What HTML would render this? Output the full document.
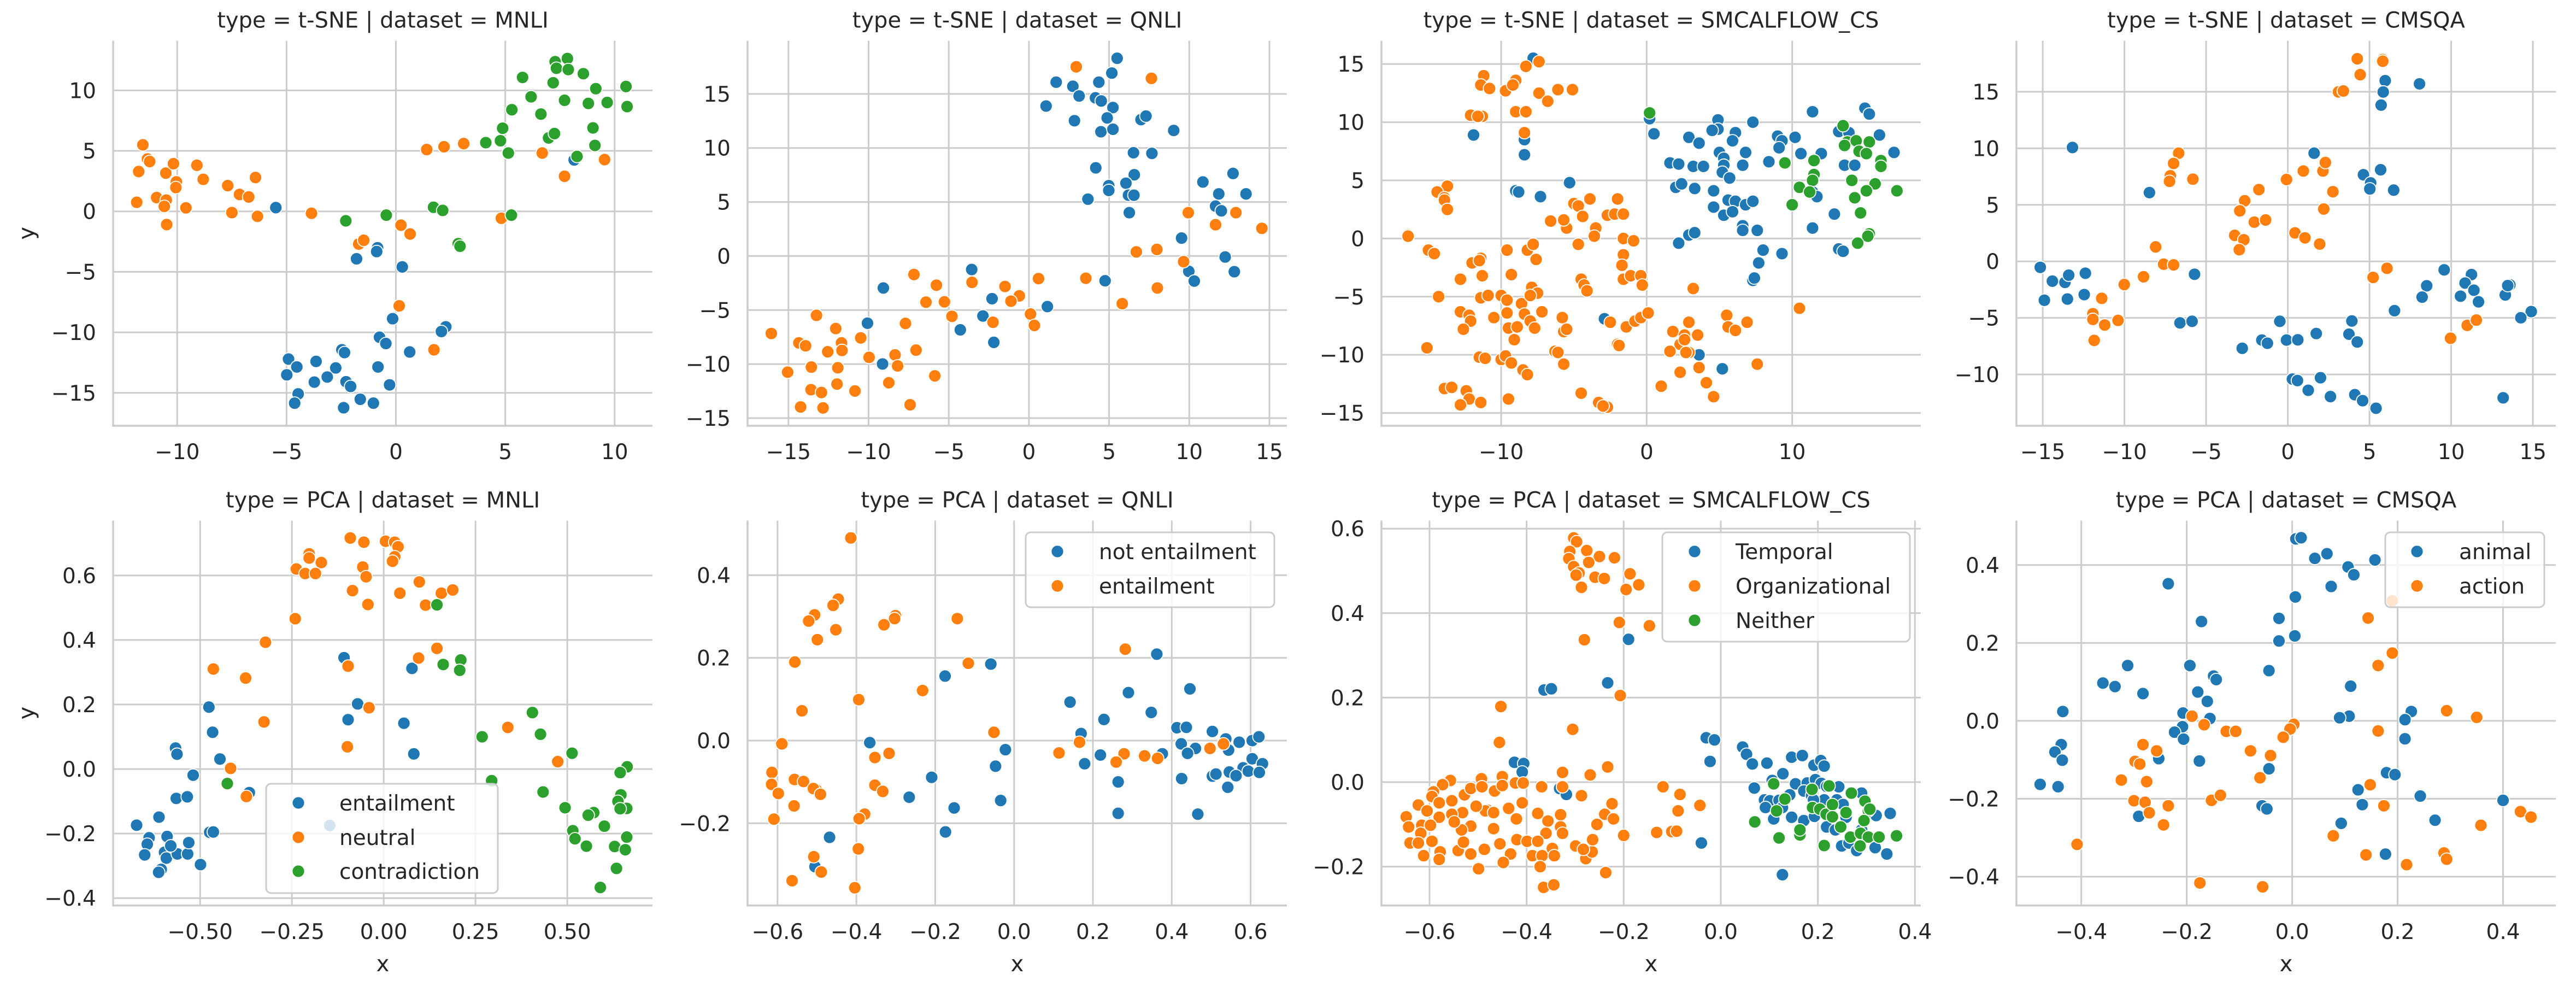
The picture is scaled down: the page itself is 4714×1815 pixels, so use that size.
<!DOCTYPE html>
<html><head><meta charset="utf-8"><title>Embeddings scatter grid</title>
<style>
html,body{margin:0;padding:0;background:#fff;}
svg{display:block;font-family:"DejaVu Sans","Liberation Sans",sans-serif;}
</style></head>
<body>
<svg id="chart" width="4714" height="1815" viewBox="0 0 4714 1815" xmlns="http://www.w3.org/2000/svg"></svg>
<script>
// ---------- data (x,y pairs) ----------
const tsneMnliEntailment=[[-5.49,0.31],[-0.84,-3.01],[-0.88,-3.32],[-1.8,-3.92],[0.29,-4.59],[-0.15,-8.87],[2.28,-9.54],[2.08,-9.93],[-0.75,-10.4],[-0.46,-10.92],[0.63,-11.62],[-2.47,-11.44],[-2.35,-11.67],[-4.91,-12.21],[-4.53,-12.86],[-3.65,-12.4],[-2.75,-12.94],[-4.99,-13.51],[-3.14,-13.69],[-3.73,-14.11],[-2.28,-14.08],[-2.07,-14.47],[-0.82,-12.86],[-0.29,-14.34],[-4.47,-15.09],[-4.63,-15.85],[-1.63,-15.53],[-1.03,-15.85],[-2.39,-16.23],[8.15,4.25]];
const tsneMnliNeutral=[[-11.57,5.5],[-11.36,4.33],[-11.26,4.12],[-11.76,3.29],[-10.52,3.16],[-10.17,3.94],[-10.04,2.44],[-10.06,1.97],[-9.1,3.81],[-8.81,2.65],[-7.69,2.13],[-7.15,1.4],[-6.73,1.19],[-6.42,2.8],[-10.94,1.14],[-10.5,0.93],[-11.85,0.75],[-10.59,0.41],[-9.6,0.29],[-10.48,-1.09],[-7.5,-0.1],[-6.33,-0.41],[-3.86,-0.16],[-1.7,-2.7],[-1.47,-2.39],[0.23,-1.14],[0.65,-1.87],[0.15,-7.81],[1.74,-11.44],[1.41,5.11],[2.2,5.34],[3.1,5.6],[6.69,4.82],[7.71,2.9],[9.54,4.28],[4.82,-0.57]];
const tsneMnliContradiction=[[7.84,12.63],[7.28,12.37],[7.34,11.83],[7.88,11.72],[5.79,11.07],[8.57,11.38],[7.19,10.63],[10.52,10.32],[6.18,9.47],[9.14,10.14],[7.71,9.18],[8.8,8.92],[9.66,9],[10.57,8.66],[5.3,8.4],[6.63,8.04],[4.88,6.87],[9.01,6.9],[6.98,6.07],[7.25,6.43],[4.11,5.68],[4.78,5.84],[5.14,4.82],[9.1,5.45],[8.28,4.54],[1.72,0.34],[2.14,0.08],[5.28,-0.31],[-0.44,-0.31],[-2.29,-0.78],[2.85,-2.67],[2.93,-2.88]];
const pcaMnliEntailment=[[-0.108,0.345],[0.077,0.312],[-0.071,0.202],[-0.097,0.153],[0.055,0.142],[0.082,0.047],[-0.476,0.192],[-0.466,0.114],[-0.567,0.065],[-0.563,0.046],[-0.446,0.031],[-0.519,-0.019],[-0.565,-0.091],[-0.535,-0.086],[-0.366,-0.073],[-0.612,-0.149],[-0.673,-0.174],[-0.639,-0.213],[-0.644,-0.233],[-0.59,-0.209],[-0.651,-0.266],[-0.597,-0.258],[-0.592,-0.276],[-0.562,-0.263],[-0.534,-0.263],[-0.531,-0.228],[-0.58,-0.238],[-0.606,-0.311],[-0.613,-0.32],[-0.499,-0.296],[-0.474,-0.196],[-0.464,-0.195],[-0.147,-0.175]];
const pcaMnliNeutral=[[-0.091,0.716],[-0.054,0.703],[0.005,0.706],[0.03,0.703],[0.039,0.689],[-0.203,0.667],[-0.203,0.654],[-0.17,0.64],[-0.238,0.62],[-0.214,0.606],[-0.186,0.606],[0.03,0.658],[0.024,0.644],[-0.057,0.626],[-0.048,0.596],[-0.085,0.553],[-0.043,0.51],[0.044,0.545],[0.097,0.58],[0.114,0.508],[0.157,0.545],[0.188,0.555],[-0.241,0.466],[-0.322,0.393],[-0.464,0.31],[-0.376,0.282],[0.095,0.344],[0.145,0.374],[-0.097,0.319],[-0.04,0.19],[-0.326,0.146],[-0.099,0.069],[0.338,0.129],[0.474,0.023],[-0.417,0.002],[-0.374,-0.085]];
const pcaMnliContradiction=[[0.145,0.509],[0.162,0.324],[0.21,0.338],[0.207,0.306],[0.405,0.175],[0.427,0.108],[0.268,0.1],[0.513,0.049],[0.294,-0.036],[0.434,-0.071],[-0.426,-0.045],[0.663,0.007],[0.644,-0.011],[0.494,-0.12],[0.572,-0.135],[0.557,-0.143],[0.601,-0.177],[0.646,-0.08],[0.638,-0.1],[0.662,-0.122],[0.644,-0.123],[0.515,-0.191],[0.521,-0.216],[0.552,-0.239],[0.662,-0.211],[0.629,-0.24],[0.658,-0.25],[0.634,-0.308],[0.59,-0.367]];
const tsneQnliNotEntailment=[[5.5,18.3],[5.17,16.93],[1.7,16.09],[2.74,15.71],[4.36,16.09],[3.13,14.81],[4.15,14.64],[4.51,14.35],[5.24,13.74],[1.07,13.88],[4.88,12.78],[2.84,12.52],[4.49,11.5],[5.24,11.73],[6.99,12.63],[7.3,12.95],[9.03,11.62],[6.52,9.56],[7.67,9.5],[4.17,8.16],[6.57,7.52],[6.05,6.74],[4.98,6.51],[4.98,6.07],[6.21,5.63],[6.55,5.63],[3.68,5.26],[6.26,4.01],[12.73,7.64],[10.85,6.85],[11.84,5.75],[13.54,5.75],[11.64,4.62],[12,4.18],[9.52,1.66],[12.24,-0.09],[9.97,-1.42],[10.31,-2.32],[12.81,-1.45],[4.75,-2.29],[-3.57,-1.25],[-9.08,-2.96],[-2.3,-3.95],[-2.87,-5.55],[1.15,-4.68],[-4.28,-6.83],[-2.19,-7.99],[-10.07,-6.22],[-9.13,-9.99]];
const tsneQnliEntailment=[[2.95,17.51],[7.64,16.44],[9.94,4.01],[12.91,4.01],[11.64,2.9],[14.53,2.56],[6.7,0.38],[7.98,0.61],[9.65,-0.52],[8.01,-2.96],[3.55,-2.06],[5.82,-4.41],[0.6,-2.09],[-3.55,-2.44],[-1.49,-2.82],[-0.6,-3.69],[-1.12,-4.18],[0.1,-5.37],[0.34,-6.42],[-2.24,-6.13],[-7.17,-1.71],[-5.77,-2.7],[-6.42,-4.27],[-5.27,-4.24],[-4.8,-5.58],[-7.7,-6.24],[-16.07,-7.17],[-13.25,-5.49],[-12.05,-6.71],[-10.49,-7.58],[-14.35,-8.04],[-13.93,-8.31],[-11.69,-8.04],[-12.55,-8.86],[-11.66,-8.74],[-9.97,-9.38],[-7.04,-8.71],[-8.35,-9.15],[-8.19,-10.17],[-13.57,-10.28],[-11.92,-10.34],[-15.05,-10.75],[-5.87,-11.09],[-8.74,-11.73],[-11.97,-11.85],[-10.85,-12.49],[-13.59,-12.37],[-12.94,-12.63],[-14.24,-13.97],[-12.84,-14.06],[-7.41,-13.77]];
const pcaQnliNotEntailment=[[-0.059,0.185],[-0.175,0.156],[0.362,0.209],[0.446,0.125],[0.29,0.116],[0.142,0.093],[0.348,0.068],[0.228,0.051],[0.17,0.017],[0.413,0.031],[0.437,0.032],[0.503,0.022],[0.537,0.004],[0.571,-0.004],[0.604,0],[0.621,0.009],[0.424,-0.008],[0.46,-0.019],[0.44,-0.031],[0.376,-0.032],[0.544,-0.023],[0.219,-0.035],[0.179,-0.056],[0.604,-0.044],[0.63,-0.056],[0.581,-0.066],[0.594,-0.074],[0.622,-0.077],[0.546,-0.076],[0.563,-0.085],[0.503,-0.086],[0.512,-0.081],[0.425,-0.092],[0.542,-0.113],[0.264,-0.1],[0.466,-0.178],[0.264,-0.176],[-0.366,-0.005],[-0.022,-0.022],[-0.047,-0.062],[-0.209,-0.089],[-0.266,-0.137],[-0.152,-0.163],[-0.034,-0.145],[-0.174,-0.221],[-0.468,-0.234],[-0.505,-0.305]];
const pcaQnliEntailment=[[-0.414,0.49],[-0.446,0.342],[-0.459,0.327],[-0.506,0.304],[-0.521,0.289],[-0.452,0.268],[-0.499,0.244],[-0.301,0.302],[-0.303,0.295],[-0.33,0.28],[-0.144,0.295],[-0.556,0.19],[-0.116,0.187],[-0.232,0.121],[-0.394,0.099],[-0.538,0.072],[-0.051,0.02],[0.282,0.221],[-0.589,-0.008],[-0.614,-0.077],[-0.615,-0.106],[-0.598,-0.128],[-0.557,-0.094],[-0.534,-0.099],[-0.502,-0.119],[-0.509,-0.116],[-0.491,-0.13],[-0.353,-0.041],[-0.317,-0.031],[-0.353,-0.108],[-0.333,-0.123],[-0.558,-0.158],[-0.609,-0.19],[-0.379,-0.178],[-0.393,-0.189],[0.114,-0.03],[0.166,-0.004],[0.279,-0.032],[0.259,-0.052],[0.331,-0.037],[0.364,-0.043],[0.497,-0.019],[0.531,-0.008],[-0.395,-0.262],[-0.508,-0.281],[-0.489,-0.318],[-0.563,-0.339],[-0.404,-0.356]];
const tsneSmcTemporal=[[-7.8,15.5],[-11.9,8.9],[-8.4,8.5],[-8.4,7.2],[-5.3,4.8],[-9,4.1],[-8.8,4],[-7.3,3.6],[0.2,10.3],[0.5,9],[2.9,8.7],[3.6,8.2],[4.9,10.2],[4.9,9.4],[4.5,9.3],[6.1,9.1],[5.9,8.4],[7.3,10],[11.4,10.9],[9,8.8],[9.3,8.4],[9.1,7.8],[10.2,8.7],[10.6,7.3],[12,7.3],[8.4,6.6],[6.8,7.4],[5,7.4],[5.3,6.9],[5.3,6.3],[6.6,6.3],[1.6,6.5],[2.2,6.4],[3.2,6.2],[3.9,6.2],[5.2,5.7],[5.7,5.2],[13.2,9.2],[13.9,9.1],[15,11.2],[15.3,10.7],[16,8.9],[17,7.4],[13.6,6.3],[14.3,6.3],[11.4,4],[11.7,3.6],[2,4.4],[2.4,4.7],[3.3,4.3],[4.6,4.1],[4.6,2.7],[5.3,2],[5.6,3.3],[6.1,3.2],[5.9,2.3],[6.8,2.9],[7.3,3.2],[6.6,1.1],[6.6,0.7],[7.6,0.7],[11.4,0.9],[12.9,2.1],[2.9,0.3],[3.3,0.5],[2.2,-0.4],[8,-1],[7.7,-2.1],[9.3,-1.3],[13.2,-0.9],[13.5,-1.1],[7.3,-3.6],[7.4,-3.4],[-2.9,-6.9],[3.6,-10],[5.2,-11.2]];
const tsneSmcOrganizational=[[-11.2,14],[-11.4,13.2],[-10.8,12.9],[-9,13.6],[-8.3,14.8],[-7.4,15.2],[-9.7,12.7],[-9.2,13.2],[-7.4,12.5],[-6.8,11.8],[-6.1,12.8],[-5.1,12.8],[-12.1,10.6],[-11.3,10.5],[-11.6,10.5],[-9,10.9],[-8.3,10.9],[-8.4,9.1],[-13.7,4.5],[-14.4,4],[-13.9,3.5],[-13.9,3.3],[-13.7,2.5],[-16.4,0.3],[-16.4,0.2],[-15,-1],[-14.6,-1.3],[-12,-2.1],[-11.4,-1.7],[-11.5,-1.9],[-11.3,-3.2],[-12.8,-3.5],[-14.3,-5],[-12.8,-6.3],[-12.2,-6.6],[-12.1,-7.1],[-12.6,-7.8],[-15.1,-9.4],[-9.6,-1],[-9.3,-3.1],[-8.2,-1],[-7.8,-0.5],[-7.6,-1.8],[-11.4,-5.1],[-10.9,-4.9],[-10,-4.9],[-9.6,-5.3],[-9.6,-6.4],[-9.5,-7.7],[-8.9,-7.6],[-9.1,-8.7],[-8.6,-5.6],[-8.4,-6.5],[-8,-7.1],[-7.9,-4.2],[-7.5,-4.7],[-8,-4.9],[-7.2,-6.3],[-7.7,-7.7],[-10.5,-6.8],[-11.5,-10.2],[-11.1,-10.3],[-10,-10.4],[-9.7,-10.1],[-9.3,-10.7],[-8.5,-11.3],[-8.2,-11.7],[-9.5,-13.8],[-13.9,-12.9],[-13.4,-12.8],[-12.4,-13.1],[-12.2,-13.8],[-11.4,-14.1],[-12.8,-14.3],[-5,3],[-4.7,2.8],[-4.4,1.9],[-5.5,0.9],[-6.6,1.5],[-5.7,1.6],[-3.5,0.9],[-3.6,0.2],[-4.7,-0.5],[-3.9,3.4],[-2,3.4],[-2.7,2],[-2.2,2.1],[-1.6,2.1],[-1.6,0],[-0.9,-0.2],[-1.6,-1.4],[-1.7,-2.3],[-1.6,-3.5],[-1.1,-3.2],[-0.4,-3.2],[-0.3,-4],[-4.5,-3.5],[-4.3,-4],[-4.1,-4.5],[-5.8,-6.8],[-5.7,-8],[-5.5,-7.8],[-6.3,-9.7],[-6.1,-9.8],[-5.7,-10.8],[-4.5,-13.3],[-3.3,-14.1],[-2.7,-14.5],[-3,-14.4],[-2.5,-7.2],[-1.4,-7.6],[-0.8,-7.1],[-0.4,-6.8],[0.1,-6.4],[-2,-9.1],[-1.9,-9.2],[3.2,-4.3],[2.9,-7.2],[1.8,-8],[2.6,-8.3],[3.5,-8.3],[2.3,-9.1],[2.9,-9.8],[2.6,-8.7],[1.6,-9.7],[2.3,-11.5],[3.6,-11.1],[1,-12.7],[4.1,-12.4],[4.6,-13.6],[5.5,-6.6],[5.6,-7.6],[6.1,-7.9],[6.9,-7.2],[7.6,-10.8],[10.5,-6],[2.7,-9.8]];
const tsneSmcNeither=[[0.2,10.8],[13.5,9.7],[13.8,8.3],[13.6,8],[14.4,8.4],[15.3,8.3],[14.6,7.5],[15.1,7.3],[16.1,6.7],[16.1,6.2],[9.5,6.5],[11.5,6.7],[11.5,5.5],[11.4,5],[10.5,4.4],[11.2,4],[14.1,5],[15.7,4.7],[14.3,3.5],[15.1,4.1],[17.2,4.1],[10,2.9],[14.7,2.2],[15.3,0.4],[15.2,0.2],[14.5,-0.4]];
const pcaSmcTemporal=[[-0.19,0.338],[-0.233,0.235],[-0.364,0.218],[-0.349,0.221],[-0.425,0.047],[-0.406,0.044],[-0.409,0.024],[-0.332,-0.015],[-0.318,-0.029],[-0.03,0.105],[-0.013,0.1],[-0.022,0.049],[-0.04,-0.144],[0.127,-0.219],[0.045,0.083],[0.053,0.066],[0.065,0.043],[0.095,0.045],[0.069,-0.014],[0.128,0.02],[0.146,0.059],[0.168,0.063],[0.192,0.04],[0.206,0.051],[0.213,0.038],[0.106,0.004],[0.154,-0.004],[0.178,-0.002],[0.195,0.006],[0.207,-0.003],[0.218,-0.01],[0.243,-0.011],[0.29,-0.026],[0.09,-0.042],[0.101,-0.044],[0.12,-0.043],[0.142,-0.03],[0.171,-0.021],[0.187,-0.032],[0.213,-0.042],[0.239,-0.042],[0.252,-0.053],[0.092,-0.06],[0.109,-0.087],[0.146,-0.083],[0.171,-0.091],[0.193,-0.081],[0.218,-0.106],[0.236,-0.113],[0.258,-0.083],[0.29,-0.113],[0.32,-0.079],[0.349,-0.074],[0.249,-0.151],[0.264,-0.144],[0.28,-0.162],[0.318,-0.155],[0.342,-0.17],[0.127,-0.06],[0.191,-0.042]];
const pcaSmcOrganizational=[[-0.303,0.578],[-0.297,0.569],[-0.311,0.546],[-0.276,0.548],[-0.313,0.529],[-0.303,0.51],[-0.25,0.534],[-0.219,0.531],[-0.272,0.52],[-0.292,0.495],[-0.298,0.49],[-0.259,0.485],[-0.24,0.482],[-0.287,0.461],[-0.187,0.493],[-0.169,0.467],[-0.195,0.456],[-0.209,0.378],[-0.147,0.37],[-0.281,0.337],[-0.207,0.205],[-0.453,0.179],[-0.305,0.125],[-0.456,0.094],[-0.233,0.036],[-0.269,0.017],[-0.327,0.023],[-0.119,-0.011],[-0.084,-0.029],[-0.088,-0.068],[-0.043,-0.055],[-0.132,-0.119],[-0.101,-0.117],[-0.091,-0.116],[-0.2,-0.126],[-0.237,-0.214],[-0.557,0.004],[-0.573,-0.006],[-0.592,-0.023],[-0.595,-0.034],[-0.623,-0.054],[-0.58,-0.049],[-0.554,-0.044],[-0.528,-0.03],[-0.515,-0.015],[-0.493,0.008],[-0.492,-0.011],[-0.45,0.013],[-0.466,-0.021],[-0.45,-0.008],[-0.423,-0.002],[-0.407,-0.002],[-0.369,-0.011],[-0.326,0.023],[-0.326,-0.011],[-0.287,-0.032],[-0.409,-0.049],[-0.437,-0.062],[-0.481,-0.066],[-0.485,-0.068],[-0.468,-0.072],[-0.504,-0.057],[-0.532,-0.072],[-0.554,-0.076],[-0.58,-0.083],[-0.605,-0.068],[-0.648,-0.082],[-0.643,-0.106],[-0.616,-0.102],[-0.598,-0.102],[-0.618,-0.121],[-0.64,-0.144],[-0.623,-0.144],[-0.595,-0.14],[-0.578,-0.165],[-0.612,-0.174],[-0.58,-0.183],[-0.541,-0.162],[-0.515,-0.17],[-0.53,-0.142],[-0.515,-0.104],[-0.534,-0.113],[-0.549,-0.094],[-0.468,-0.11],[-0.455,-0.146],[-0.433,-0.17],[-0.448,-0.19],[-0.499,-0.205],[-0.487,-0.159],[-0.421,-0.087],[-0.42,-0.136],[-0.399,-0.14],[-0.388,-0.174],[-0.368,-0.174],[-0.377,-0.074],[-0.356,-0.092],[-0.33,-0.077],[-0.33,-0.106],[-0.326,-0.121],[-0.36,-0.121],[-0.347,-0.157],[-0.377,-0.14],[-0.343,-0.174],[-0.372,-0.2],[-0.299,-0.151],[-0.278,-0.181],[-0.265,-0.165],[-0.264,-0.136],[-0.255,-0.1],[-0.239,-0.076],[-0.221,-0.087],[-0.224,-0.051],[-0.283,-0.159],[-0.365,-0.249],[-0.344,-0.243]];
const pcaSmcNeither=[[0.109,-0.004],[0.132,-0.04],[0.115,-0.068],[0.07,-0.094],[0.12,-0.132],[0.163,-0.125],[0.163,-0.113],[0.188,-0.017],[0.223,-0.009],[0.269,-0.026],[0.189,-0.06],[0.204,-0.064],[0.217,-0.076],[0.23,-0.053],[0.258,-0.072],[0.23,-0.082],[0.247,-0.106],[0.297,-0.045],[0.304,-0.068],[0.307,-0.064],[0.295,-0.091],[0.267,-0.13],[0.288,-0.121],[0.304,-0.13],[0.326,-0.13],[0.287,-0.151],[0.213,-0.15],[0.362,-0.127]];
const tsneCmsqaAnimal=[[5.96,15.98],[5.84,14.98],[5.71,13.82],[8.06,15.7],[-13.18,10.07],[-8.47,6.08],[1.61,9.57],[5.68,8.1],[4.63,7.66],[5.07,6.94],[5.02,6.41],[6.48,6.3],[-15.15,-0.53],[-14.41,-1.75],[-13.64,-1.86],[-13.41,-1.22],[-12.39,-1.05],[-14.9,-3.44],[-13.49,-3.33],[-12.46,-2.94],[-5.71,-1.14],[-6.6,-5.44],[-5.86,-5.3],[-0.49,-5.3],[-1.59,-6.96],[-1.25,-7.24],[-0.08,-6.96],[0.61,-6.94],[1.74,-6.38],[-2.79,-7.69],[3.92,-5.27],[3.74,-6.44],[4.25,-7.13],[6.53,-4.36],[0.28,-10.41],[0.59,-10.54],[2,-10.29],[1.25,-11.4],[2.61,-11.96],[4.1,-11.79],[4.58,-12.32],[5.4,-12.99],[9.57,-0.75],[11.24,-1.17],[10.85,-1.92],[11.39,-2.55],[10.57,-3.08],[11.67,-3.58],[8.5,-2.16],[8.22,-3.16],[13.31,-2.97],[13.59,-2.08],[13.46,-2.14],[14.9,-4.44],[14.26,-4.99],[13.18,-12.07]];
const tsneCmsqaAction=[[4.25,17.92],[5.81,17.84],[5.81,17.7],[4.43,16.51],[3.1,14.99],[3.4,15.07],[-6.68,9.57],[-6.99,8.66],[-7.19,7.57],[-7.24,7.08],[-5.81,7.27],[-0.08,7.24],[0.95,7.99],[2.15,7.99],[2.3,8.74],[2.76,6.16],[2.2,4.63],[-1.77,6.35],[-2.64,5.36],[-2.94,4.47],[-2.05,3.47],[-1.36,3.66],[-3.25,2.3],[-2.69,1.91],[-2.97,1.03],[0.44,2.52],[1.05,2.08],[1.95,1.53],[-8.09,1.28],[-7.6,-0.25],[-6.99,-0.31],[-8.83,-1.36],[-10.01,-2.05],[-11.39,-3.27],[-11.93,-4.63],[-11.93,-5.13],[-11.21,-5.63],[-10.39,-5.22],[-11.85,-6.99],[6.07,-0.61],[5.22,-1.42],[10.98,-5.66],[11.54,-5.19],[9.96,-6.8]];
const pcaCmsqaAnimal=[[0.007,0.467],[0.017,0.47],[0.043,0.417],[0.066,0.429],[0.106,0.395],[0.117,0.375],[0.157,0.413],[0.074,0.345],[0.006,0.318],[-0.025,0.263],[0.005,0.218],[-0.025,0.205],[-0.235,0.352],[-0.172,0.255],[-0.312,0.142],[-0.194,0.142],[-0.044,0.129],[-0.359,0.097],[-0.336,0.088],[-0.283,0.07],[-0.149,0.115],[-0.144,0.106],[-0.179,0.074],[-0.161,0.05],[0.111,0.089],[-0.207,0.02],[-0.156,0.006],[-0.208,-0.015],[-0.223,-0.029],[-0.206,-0.047],[0.108,0.012],[0.09,0.008],[0.226,0.024],[0.214,0.003],[0.214,-0.046],[-0.435,0.024],[-0.438,-0.061],[-0.45,-0.08],[-0.436,-0.101],[-0.253,-0.097],[-0.176,-0.103],[-0.044,-0.123],[-0.478,-0.163],[-0.444,-0.169],[0.179,-0.133],[0.195,-0.138],[0.125,-0.177],[0.243,-0.193],[0.133,-0.215],[0.4,-0.204],[-0.057,-0.218],[-0.048,-0.226],[-0.291,-0.245],[0.093,-0.263],[0.271,-0.255],[0.177,-0.342]];
const pcaCmsqaAction=[[0.19,0.308],[0.144,0.264],[0.19,0.174],[0.163,0.142],[0.293,0.026],[0.35,0.009],[-0.19,0.012],[-0.167,-0.01],[-0.125,-0.027],[-0.107,-0.027],[0.003,-0.009],[-0.004,-0.021],[-0.017,-0.042],[0.163,-0.026],[-0.283,-0.061],[-0.257,-0.077],[-0.298,-0.104],[-0.289,-0.111],[-0.079,-0.077],[-0.041,-0.089],[-0.324,-0.152],[-0.276,-0.156],[-0.061,-0.146],[0.148,-0.164],[-0.3,-0.205],[-0.279,-0.209],[-0.235,-0.218],[-0.271,-0.236],[-0.153,-0.204],[-0.136,-0.191],[0.174,-0.218],[-0.244,-0.267],[0.433,-0.233],[0.453,-0.247],[0.358,-0.268],[-0.408,-0.317],[0.078,-0.295],[0.14,-0.344],[0.217,-0.369],[0.288,-0.339],[0.293,-0.355],[-0.175,-0.416],[-0.056,-0.426]];

// tick labels
const ticksTsneMnliX=[-10,-5,0,5,10], ticksTsneMnliY=[-15,-10,-5,0,5,10];
const ticksTsneQnliX=[-15,-10,-5,0,5,10,15], ticksTsneQnliY=[-15,-10,-5,0,5,10,15];
const ticksTsneSmcX=[-10,0,10], ticksTsneSmcY=[-15,-10,-5,0,5,10,15];
const ticksTsneCmsqaX=[-15,-10,-5,0,5,10,15], ticksTsneCmsqaY=[-10,-5,0,5,10,15];
const ticksPcaMnliX=[-0.5,-0.25,0,0.25,0.5], ticksPcaMnliY=[-0.4,-0.2,0,0.2,0.4,0.6];
const ticksPcaQnliX=[-0.6,-0.4,-0.2,0,0.2,0.4,0.6], ticksPcaQnliY=[-0.2,0,0.2,0.4];
const ticksPcaSmcX=[-0.6,-0.4,-0.2,0,0.2,0.4], ticksPcaSmcY=[-0.2,0,0.2,0.4,0.6];
const ticksPcaCmsqaX=[-0.4,-0.2,0,0.2,0.4], ticksPcaCmsqaY=[-0.4,-0.2,0,0.2,0.4];

const COLORS=['#1f77b4','#ff7f0e','#2ca02c'];
const panels=[
 {id:'tsne-mnli',title:'type = t-SNE | dataset = MNLI',L:207,R:1194,T:74.6,B:779,xd:[-12.93,11.73],yd:[-17.72,14.1],xt:ticksTsneMnliX,yt:ticksTsneMnliY,dx:0,dy:0,series:[tsneMnliEntailment,tsneMnliNeutral,tsneMnliContradiction],ylab:true},
 {id:'tsne-qnli',title:'type = t-SNE | dataset = QNLI',L:1368,R:2355,T:74.6,B:779,xd:[-17.55,16.09],yd:[-15.71,19.92],xt:ticksTsneQnliX,yt:ticksTsneQnliY,dx:0,dy:0,series:[tsneQnliNotEntailment,tsneQnliEntailment]},
 {id:'tsne-smcalflow',title:'type = t-SNE | dataset = SMCALFLOW_CS',L:2528,R:3515,T:74.6,B:779,xd:[-18.23,18.84],yd:[-16.1,17.0],xt:ticksTsneSmcX,yt:ticksTsneSmcY,dx:0,dy:0,series:[tsneSmcTemporal,tsneSmcOrganizational,tsneSmcNeither]},
 {id:'tsne-cmsqa',title:'type = t-SNE | dataset = CMSQA',L:3690,R:4677,T:74.6,B:779,xd:[-16.61,16.4],yd:[-14.54,19.51],xt:ticksTsneCmsqaX,yt:ticksTsneCmsqaY,dx:0,dy:0,series:[tsneCmsqaAnimal,tsneCmsqaAction]},
 {id:'pca-mnli',title:'type = PCA | dataset = MNLI',L:207,R:1194,T:952.5,B:1656.8,xd:[-0.737,0.732],yd:[-0.423,0.77],xt:ticksPcaMnliX,yt:ticksPcaMnliY,dx:2,dy:1,series:[pcaMnliEntailment,pcaMnliNeutral,pcaMnliContradiction],ylab:true,xlab:true,
  legend:{x:487,y:1434,w:424,h:200,mx:546,tx:621,rows:[1469,1532,1594],labels:['entailment','neutral','contradiction']}},
 {id:'pca-qnli',title:'type = PCA | dataset = QNLI',L:1368,R:2355,T:952.5,B:1656.8,xd:[-0.676,0.692],yd:[-0.399,0.532],xt:ticksPcaQnliX,yt:ticksPcaQnliY,dx:1,dy:1,series:[pcaQnliNotEntailment,pcaQnliEntailment],xlab:true,
  legend:{x:1877,y:974,w:455,h:137,mx:1935,tx:2011,rows:[1009,1072],labels:['not entailment','entailment']}},
 {id:'pca-smcalflow',title:'type = PCA | dataset = SMCALFLOW_CS',L:2528,R:3515,T:952.5,B:1656.8,xd:[-0.699,0.412],yd:[-0.292,0.619],xt:ticksPcaSmcX,yt:ticksPcaSmcY,dx:1,dy:1,series:[pcaSmcTemporal,pcaSmcOrganizational,pcaSmcNeither],xlab:true,
  legend:{x:3042,y:974,w:453,h:200,mx:3101,tx:3176,rows:[1009,1072,1135],labels:['Temporal','Organizational','Neither']}},
 {id:'pca-cmsqa',title:'type = PCA | dataset = CMSQA',L:3690,R:4677,T:952.5,B:1656.8,xd:[-0.523,0.5],yd:[-0.474,0.514],xt:ticksPcaCmsqaX,yt:ticksPcaCmsqaY,dx:1,dy:1,series:[pcaCmsqaAnimal,pcaCmsqaAction],xlab:true,
  legend:{x:4365,y:974,w:291,h:137,mx:4423,tx:4500,rows:[1009,1072],labels:['animal','action']}}
];
const NS='http://www.w3.org/2000/svg';
const svg=document.getElementById('chart');
function mk(tag,attrs,parent){const e=document.createElementNS(NS,tag);for(const k in attrs)e.setAttribute(k,attrs[k]);(parent||svg).appendChild(e);return e;}
function fmt(v,d){let s=Math.abs(v).toFixed(d);return (v<-1e-9?'\u2212':'')+s;}
const bg=mk('rect',{x:0,y:0,width:4714,height:1815,fill:'#fff'});


panels.forEach(p=>{
 const xS=v=>p.L+(v-p.xd[0])/(p.xd[1]-p.xd[0])*(p.R-p.L);
 const yS=v=>p.B-(v-p.yd[0])/(p.yd[1]-p.yd[0])*(p.B-p.T);
 const g=mk('g',{});
 
 
 // grid
 p.xt.forEach(v=>{const x=xS(v);
  const l=mk('line',{x1:x,x2:x,y1:p.T,y2:p.B,stroke:'#cccccc','stroke-width':3},g);
  
  
  const t=mk('text',{x:x,y:p.B+61,'text-anchor':'middle','font-size':39,fill:'#262626'},g);
  t.textContent=fmt(v,p.dx);
  
  
 });
 p.yt.forEach(v=>{const y=yS(v);
  const l=mk('line',{x1:p.L,x2:p.R,y1:y,y2:y,stroke:'#cccccc','stroke-width':3},g);
  
  
  const t=mk('text',{x:p.L-31,y:y+14,'text-anchor':'end','font-size':39,fill:'#262626'},g);
  t.textContent=fmt(v,p.dy);
  
  
 });
 const sl=mk('line',{x1:p.L,x2:p.L,y1:p.T,y2:p.B+1.5,stroke:'#cccccc','stroke-width':3.5},g);
 
 
 const sb=mk('line',{x1:p.L-1.5,x2:p.R,y1:p.B,y2:p.B,stroke:'#cccccc','stroke-width':3.5},g);
 
 
 // points
 p.series.forEach((arr,si)=>{
  const sg=mk('g',{},g);
  
  
  arr.forEach(d=>{
   const c=mk('circle',{cx:xS(d[0]),cy:yS(d[1]),r:11.5,fill:COLORS[si],stroke:'#fff','stroke-width':1.8},sg);
   
   
  });
 });
 const tt=mk('text',{x:(p.L+p.R)/2,y:p.T-24,'text-anchor':'middle','font-size':40,fill:'#262626'},g);
 tt.textContent=p.title;
 
 
 if(p.xlab){const t=mk('text',{x:(p.L+p.R)/2,y:1777,'text-anchor':'middle','font-size':40,fill:'#262626'},g);t.textContent='x';
  
  }
 if(p.ylab){const cy=(p.T+p.B)/2;const t=mk('text',{x:62,y:cy,'text-anchor':'middle','font-size':40,fill:'#262626',transform:'rotate(-90 62 '+cy+')'},g);t.textContent='y';
  
  }
 if(p.legend){const L=p.legend;
  const lg=mk('g',{},g);
  
  
  mk('rect',{x:L.x,y:L.y,width:L.w,height:L.h,rx:9,fill:'#fff','fill-opacity':0.8,stroke:'#cccccc','stroke-width':3},lg);
  L.labels.forEach((lab,i)=>{
   const e=mk('g',{},lg);
   
   
   mk('circle',{cx:L.mx,cy:L.rows[i],r:11.5,fill:COLORS[i],stroke:'#fff','stroke-width':1.8},e);
   const t=mk('text',{x:L.tx,y:L.rows[i]+14,'font-size':39,fill:'#262626'},e);t.textContent=lab;
  });
 }
});
</script>
</body></html>
